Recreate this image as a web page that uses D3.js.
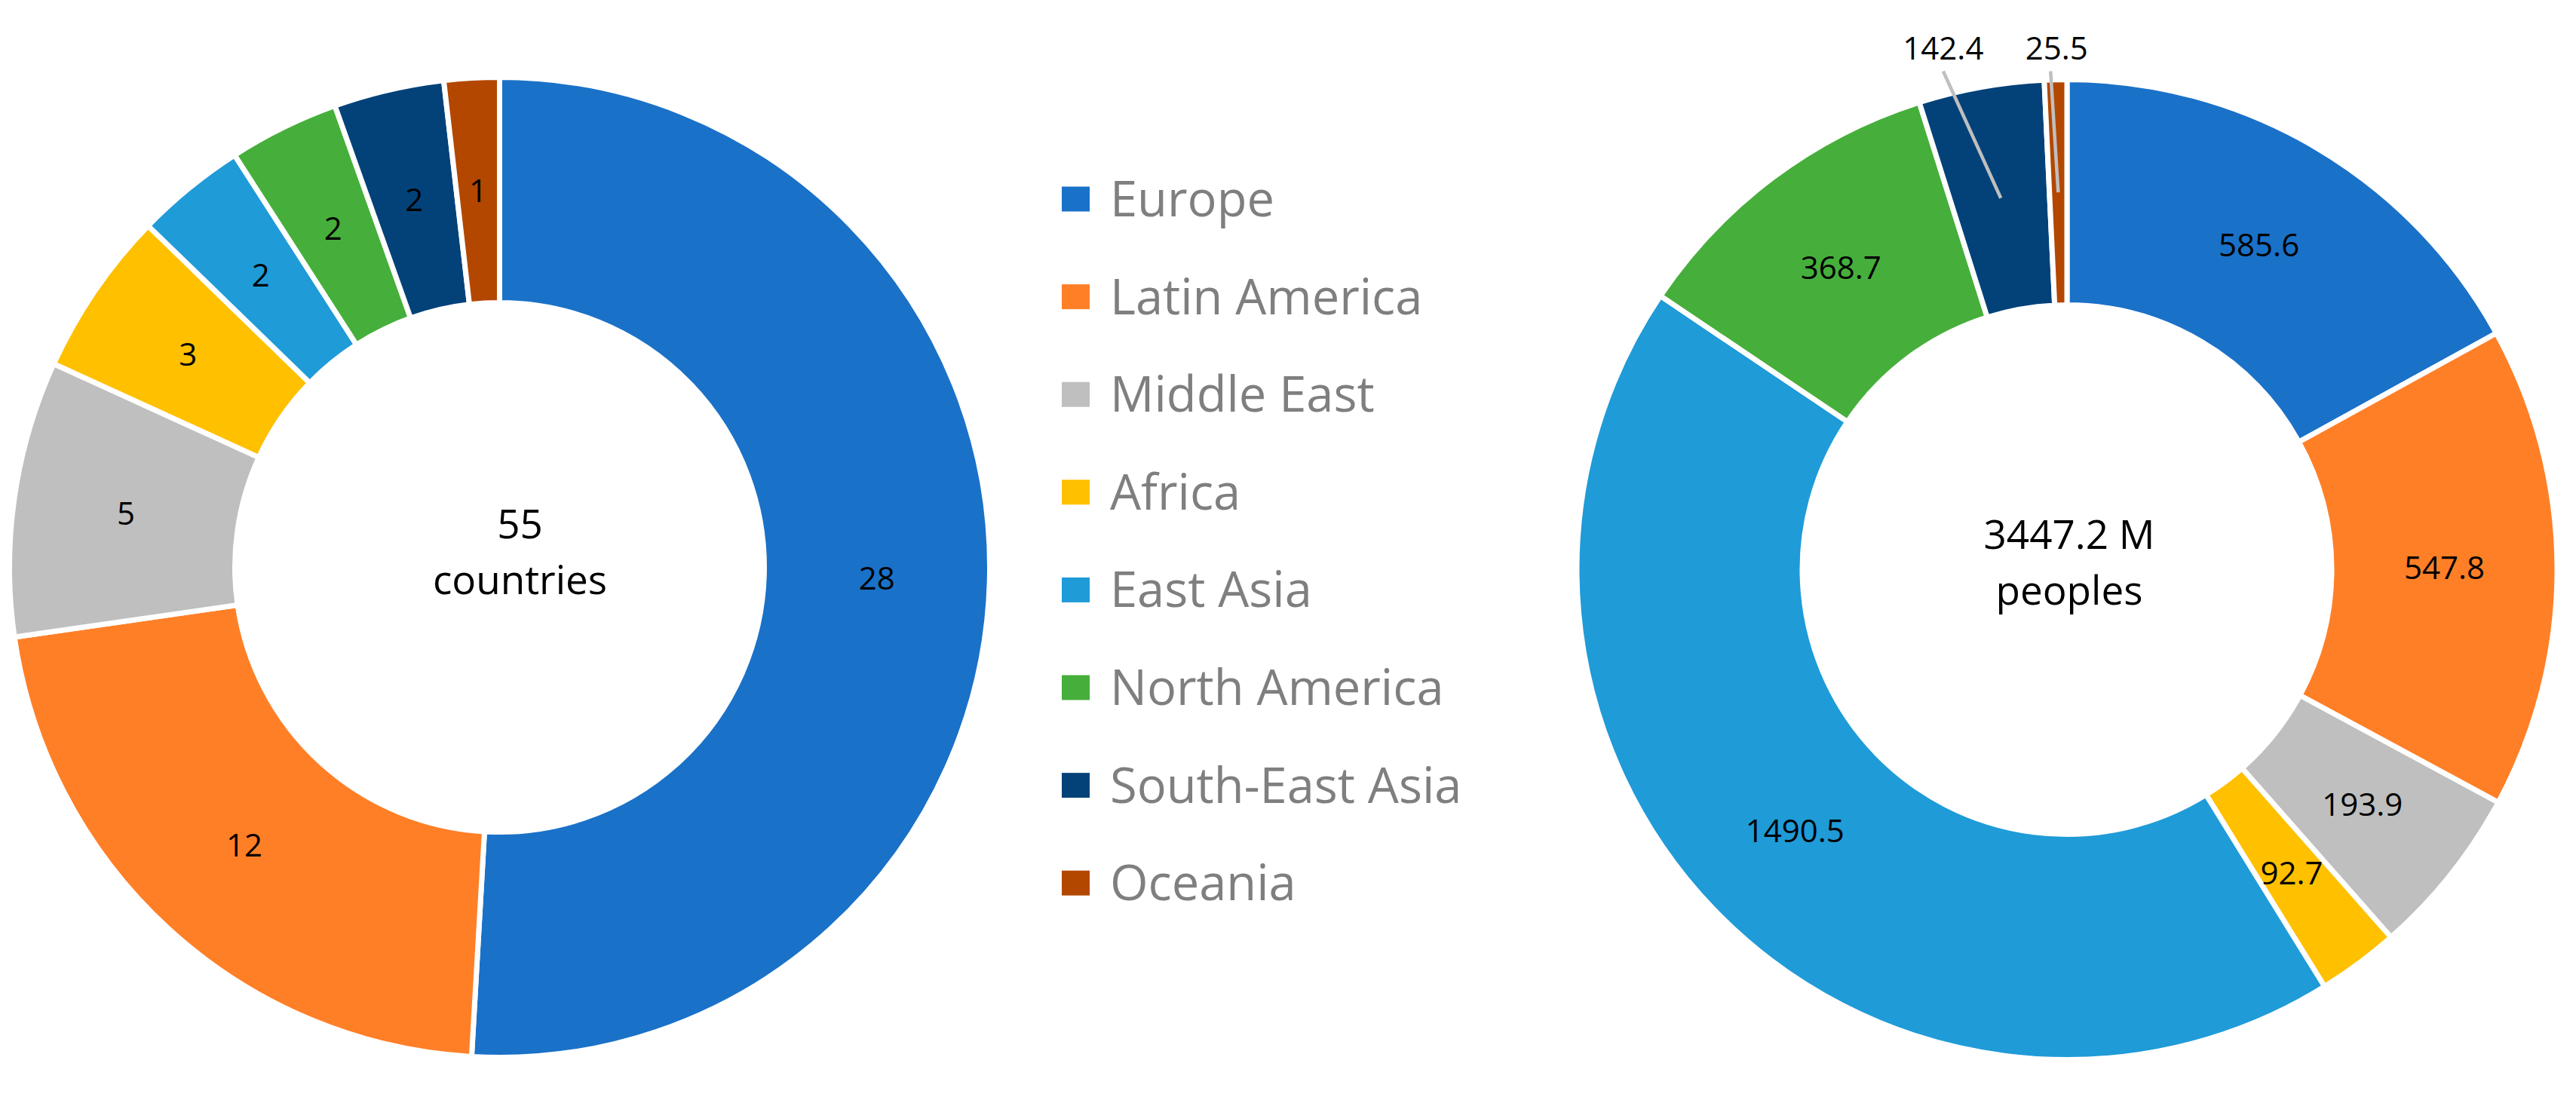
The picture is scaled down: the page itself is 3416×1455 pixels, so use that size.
<!DOCTYPE html>
<html>
<head>
<meta charset="utf-8">
<script src="https://cdn.jsdelivr.net/npm/d3@7"></script>
<style>
  body { margin: 0; background: #fff; }
  svg { display: block; }
  text { font-family: "Open Sans", "Noto Sans", sans-serif; }
</style>
</head>
<body>
<div id="chart"></div>
<script>
// data
var regions = ["Europe", "Latin America", "Middle East", "Africa", "East Asia", "North America", "South-East Asia", "Oceania"];
var countryCounts = [28, 12, 5, 3, 2, 2, 2, 1];
var populations = [585.6, 547.8, 193.9, 92.7, 1490.5, 368.7, 142.4, 25.5];
var regionColors = ["#1A71C8", "#FF7F27", "#BFBFBF", "#FFC000", "#1F9BD8", "#46AF3B", "#024279", "#B34700"];
var countryCenter = ["55", "countries"];
var populationCenter = ["3447.2 M", "peoples"];
// slices whose label sits outside with a leader line (right chart)
var populationCallouts = ["South-East Asia", "Oceania"];

var width = 3416, height = 1455;

var svg = d3.select("#chart")
  .append("svg")
  .attr("width", width)
  .attr("height", height);

var color = d3.scaleOrdinal().domain(regions).range(regionColors);

var outerR = 650, innerR = 351;
var midR = (outerR + innerR) / 2;
var arc = d3.arc().innerRadius(innerR).outerRadius(outerR);
var labelArc = d3.arc().innerRadius(midR).outerRadius(midR);
var pie = d3.pie().sort(null).value(function(d) { return d.value; });

function drawDonut(cx, cy, values, fmt, centerLines, centerDx, centerDy, callouts) {
  var rows = regions.map(function(r, i) { return {name: r, value: values[i]}; });
  var arcs = pie(rows);

  var g = svg.append("g").attr("transform", "translate(" + cx + "," + cy + ")");

  g.selectAll("path")
    .data(arcs)
    .enter()
    .append("path")
    .attr("d", arc)
    .attr("fill", function(d) { return color(d.data.name); })
    .attr("stroke", "#fff")
    .attr("stroke-width", 7)
    .attr("stroke-linejoin", "miter");

  var inside = arcs.filter(function(d) { return callouts.indexOf(d.data.name) < 0; });
  var outside = arcs.filter(function(d) { return callouts.indexOf(d.data.name) >= 0; });

  g.selectAll("text.val")
    .data(inside)
    .enter()
    .append("text")
    .attr("class", "val")
    .attr("x", function(d) { return labelArc.centroid(d)[0]; })
    .attr("y", function(d) { return labelArc.centroid(d)[1] + 15; })
    .attr("text-anchor", "middle")
    .attr("font-size", 42)
    .attr("fill", "#000")
    .text(function(d) { return fmt(d.data.value); });

  // callout labels above the ring
  outside.forEach(function(d) {
    var p = labelArc.centroid(d);
    var mid = (d.startAngle + d.endAngle) / 2;
    var tx = p[0] + 0.67 * Math.sin(mid) * outerR;
    g.append("line")
      .attr("x1", tx).attr("y1", -outerR - 11)
      .attr("x2", p[0]).attr("y2", p[1])
      .attr("stroke", "#BFBFBF")
      .attr("stroke-width", 4.5);
    g.append("text")
      .attr("x", tx + (Math.abs(tx - p[0]) < 30 ? 8 : 0))
      .attr("y", -outerR - 27)
      .attr("text-anchor", "middle")
      .attr("font-size", 42)
      .attr("fill", "#000")
      .text(fmt(d.data.value));
  });

  var ct = g.append("text")
    .attr("text-anchor", "middle")
    .attr("font-size", 53)
    .attr("fill", "#000");
  ct.append("tspan").attr("x", centerDx).attr("y", -39 + centerDy).text(centerLines[0]);
  ct.append("tspan").attr("x", centerDx).attr("y", 35 + centerDy).text(centerLines[1]);
}

drawDonut(662.5, 752.5, countryCounts, d3.format("d"), countryCenter, 27, 0, []);
drawDonut(2741, 755.5, populations, d3.format(".1f"), populationCenter, 3, 11, populationCallouts);

// legend
var legend = svg.append("g").attr("transform", "translate(1408,264)");
var rowStep = 129.6;

var item = legend.selectAll("g")
  .data(regions)
  .enter()
  .append("g")
  .attr("transform", function(d, i) { return "translate(0," + (i * rowStep) + ")"; });

item.append("rect")
  .attr("x", 0)
  .attr("y", -16.5)
  .attr("width", 37)
  .attr("height", 33)
  .attr("fill", function(d) { return color(d); });

item.append("text")
  .attr("x", 64)
  .attr("y", 23)
  .attr("font-size", 65)
  .attr("fill", "#7F7F7F")
  .text(function(d) { return d; });
</script>
</body>
</html>
